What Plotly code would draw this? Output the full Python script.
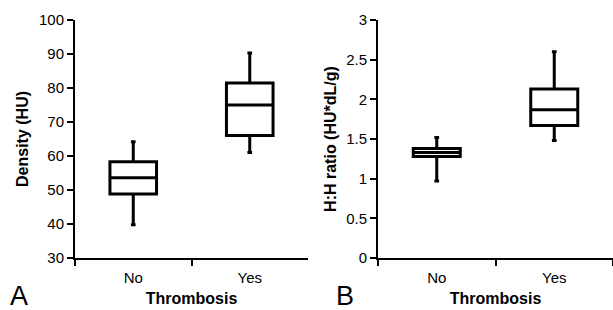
import plotly.graph_objects as go

categories = ["No", "Yes"]
# Panel A: Density (HU)
a_lower = [39.8, 61.0]
a_q1 = [48.8, 66.0]
a_median = [53.6, 75.0]
a_q3 = [58.3, 81.5]
a_upper = [64.2, 90.3]
# Panel B: H:H ratio (HU*dL/g)
b_lower = [0.97, 1.48]
b_q1 = [1.28, 1.67]
b_median = [1.33, 1.87]
b_q3 = [1.38, 2.13]
b_upper = [1.52, 2.60]

FONT = "Liberation Sans, Arial, sans-serif"

fig = go.Figure()
for xa, ya, lo, q1, md, q3, up in [("x", "y", a_lower, a_q1, a_median, a_q3, a_upper),
                                   ("x2", "y2", b_lower, b_q1, b_median, b_q3, b_upper)]:
    fig.add_trace(go.Box(
        x=categories, q1=q1, median=md, q3=q3, lowerfence=lo, upperfence=up,
        xaxis=xa, yaxis=ya, boxpoints=False, width=0.4, whiskerwidth=0.1,
        fillcolor="white", line=dict(color="black", width=3), showlegend=False,
        hoverinfo="skip"))

xcommon = dict(type="category", showline=True, linecolor="black", linewidth=2,
               ticks="outside", tickson="boundaries", ticklen=6, tickwidth=2,
               tickcolor="black", showgrid=False, zeroline=False, automargin=False,
               ticklabelstandoff=5,
               tickfont=dict(family=FONT, size=15, color="black"),
               title=dict(text="Thrombosis", standoff=8,
                          font=dict(family=FONT, size=16, color="black", weight="bold")),
               range=[-0.5, 1.5], fixedrange=True)
ycommon = dict(showline=True, linecolor="black", linewidth=2, ticks="outside",
               ticklen=6, tickwidth=2, tickcolor="black", showgrid=False,
               zeroline=False, automargin=False,
               tickfont=dict(family=FONT, size=15, color="black"))

fig.update_layout(
    width=613, height=310, margin=dict(l=0, r=0, t=0, b=0),
    paper_bgcolor="white", plot_bgcolor="white",
    xaxis=dict(domain=[75/613, 308/613], anchor="y", **xcommon),
    xaxis2=dict(domain=[378/613, 613/613], anchor="y2", **xcommon),
    yaxis=dict(domain=[1-258/310, 1-20/310], anchor="x", range=[30, 100], dtick=10,
               title=dict(text="Density (HU)", standoff=6,
                          font=dict(family=FONT, size=16, color="black", weight="bold")),
               **ycommon),
    yaxis2=dict(domain=[1-258/310, 1-20/310], anchor="x2", range=[0, 3], dtick=0.5,
                title=dict(text="H:H ratio (HU*dL/g)", standoff=6,
                           font=dict(family=FONT, size=16, color="black", weight="bold")),
                **ycommon),
    annotations=[
        dict(text="A", x=8/613, y=1-296/310, xref="paper", yref="paper",
             xanchor="left", yanchor="middle", showarrow=False,
             font=dict(family=FONT, size=27, color="black")),
        dict(text="B", x=334/613, y=1-296/310, xref="paper", yref="paper",
             xanchor="left", yanchor="middle", showarrow=False,
             font=dict(family=FONT, size=27, color="black")),
    ],
)

fig.write_html("out.html", config={"displayModeBar": False},
               post_script="document.body.style.margin='0';document.body.style.overflow='hidden';")
